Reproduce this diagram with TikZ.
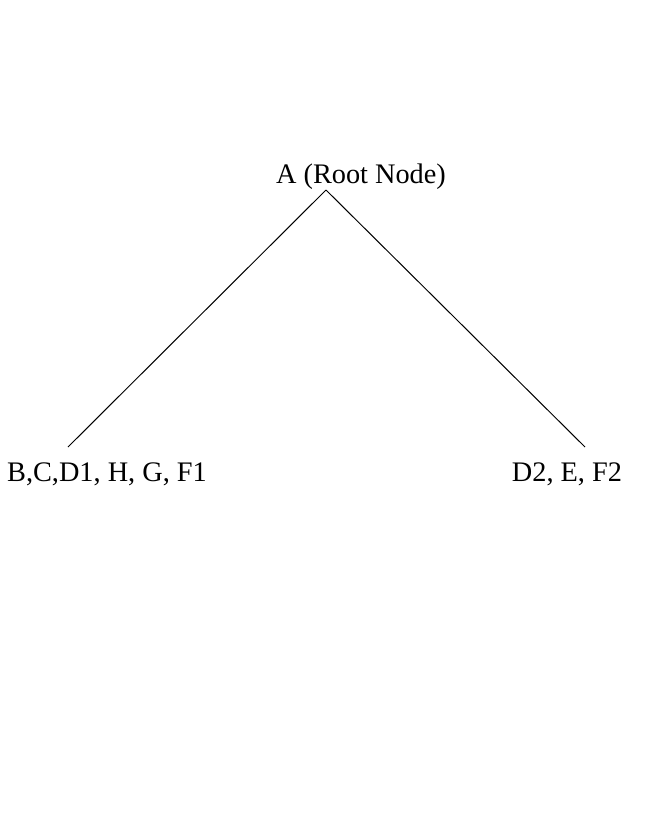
\documentclass[tikz,border=0pt]{standalone}
\usepackage{fontspec}
\setmainfont{Liberation Serif}
\usetikzlibrary{positioning}

\begin{document}
\begin{tikzpicture}[
    x=0.5pt, y=-0.5pt, % one unit per pixel of the page
    labelstyle/.style={font=\fontsize{14.15}{17}\selectfont, inner sep=0pt, anchor=base},
    edgestyle/.style={line width=0.5pt}
]
\useasboundingbox (0,0) rectangle (650,820);

% Root
\node (root_label) [labelstyle] at (361,183) {A (Root Node)};
\coordinate (root_tip) at (326,190);

% Children
\node (left_label) [labelstyle] at (107,481) {B,C,D1, H, G, F1};
\coordinate (left_tip) at (68,447);
\node (right_label) [labelstyle] at (567,481) {D2, E, F2};
\coordinate (right_tip) at (585,447);

% Edges
\draw[edgestyle] (root_tip) -- (left_tip);
\draw[edgestyle] (root_tip) -- (right_tip);

\end{tikzpicture}
\end{document}
